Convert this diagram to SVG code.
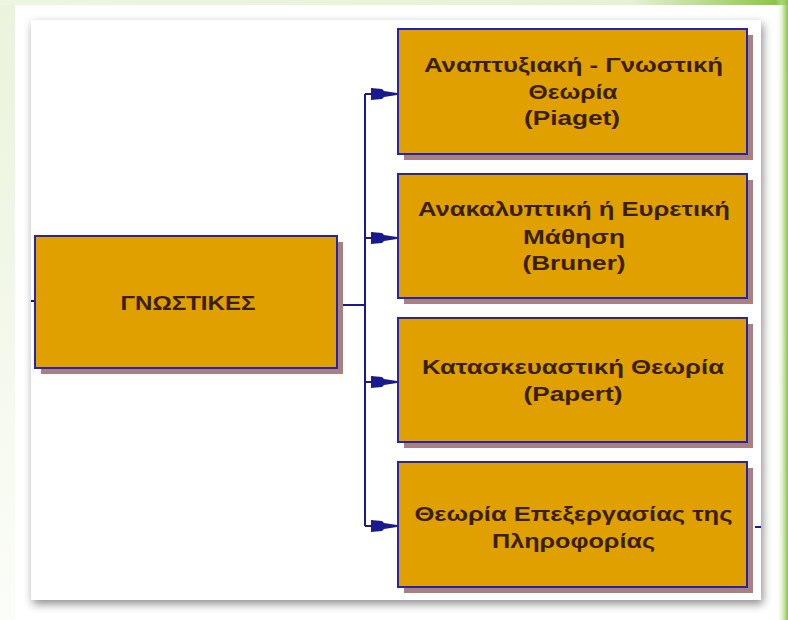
<svg xmlns="http://www.w3.org/2000/svg" width="788" height="620" viewBox="0 0 788 620">
  <defs>
    <linearGradient id="leftTint" x1="0" y1="0" x2="0" y2="1">
      <stop offset="0" stop-color="#eaf3dc"/>
      <stop offset="1" stop-color="#fbfdf8"/>
    </linearGradient>
    <linearGradient id="topTint" x1="0" y1="0" x2="1" y2="0">
      <stop offset="0" stop-color="#eef5e2"/>
      <stop offset="0.8" stop-color="#e6f1d6"/>
      <stop offset="1" stop-color="#86c23a"/>
    </linearGradient>
    <linearGradient id="rightTint" x1="0" y1="0" x2="1" y2="0">
      <stop offset="0" stop-color="#ffffff" stop-opacity="0"/>
      <stop offset="1" stop-color="#86c23a"/>
    </linearGradient>
    <filter id="panelShadow" x="-5%" y="-5%" width="110%" height="110%">
      <feDropShadow dx="2" dy="4" stdDeviation="5" flood-color="#000" flood-opacity="0.45"/>
    </filter>
    <marker id="arrow" markerUnits="userSpaceOnUse" viewBox="0 0 26 12" markerWidth="26" markerHeight="12" refX="26" refY="6" orient="auto">
      <path d="M0,0 L11,1 L13,3 L26,5 L26,7 L13,9 L11,11 L0,12 Z" fill="#1a1a8c"/>
    </marker>
    <style>
      .box { fill: #e0a000; stroke: #2424b4; stroke-width: 2; }
      .shadow { fill: #a88080; }
      .lbl { font-family: "Liberation Sans", Arial, sans-serif; font-weight: bold; font-size: 20px; fill: #3a1f00; text-anchor: middle; }
      .big { font-size: 21px; }
      .conn { fill: none; stroke: #1a1a8c; stroke-width: 2; }
    </style>
  </defs>

  <!-- background -->
  <rect x="0" y="0" width="788" height="620" fill="url(#leftTint)"/>
  <rect x="0" y="0" width="788" height="5" fill="url(#topTint)"/>
  <rect x="15" y="5" width="768" height="615" fill="#ffffff"/>
  <rect x="776" y="0" width="12" height="620" fill="url(#rightTint)"/>
  <rect x="31" y="20" width="730" height="580" fill="#ffffff" filter="url(#panelShadow)"/>

  <!-- connectors -->
  <g id="connectors">
    <path class="conn" d="M31,301 H35"/>
    <path class="conn" d="M343,305 H365"/>
    <path class="conn" d="M365,94 V526"/>
    <path class="conn" d="M365,94 H397" marker-end="url(#arrow)"/>
    <path class="conn" d="M365,238 H397" marker-end="url(#arrow)"/>
    <path class="conn" d="M365,382 H397" marker-end="url(#arrow)"/>
    <path class="conn" d="M365,526 H397" marker-end="url(#arrow)"/>
    <path class="conn" d="M755,527 H761"/>
  </g>

  <!-- nodes -->
  <g id="node-gnostikes">
    <rect class="shadow" x="41" y="242" width="302" height="132"/>
    <rect class="box" x="35" y="236" width="302" height="132"/>
    <text class="lbl big" x="188" y="309.5" textLength="135" lengthAdjust="spacingAndGlyphs">ΓΝΩΣΤΙΚΕΣ</text>
  </g>

  <g id="node-piaget">
    <rect class="shadow" x="404" y="35" width="349" height="125"/>
    <rect class="box" x="398" y="29" width="349" height="125"/>
    <text class="lbl" x="573.5" y="72" textLength="299" lengthAdjust="spacingAndGlyphs">Αναπτυξιακή - Γνωστική</text>
    <text class="lbl" x="573" y="99" textLength="89" lengthAdjust="spacingAndGlyphs">Θεωρία</text>
    <text class="lbl" x="572" y="125" textLength="96" lengthAdjust="spacingAndGlyphs">(Piaget)</text>
  </g>

  <g id="node-bruner">
    <rect class="shadow" x="404" y="180" width="349" height="124"/>
    <rect class="box" x="398" y="174" width="349" height="124"/>
    <text class="lbl" x="574" y="216" textLength="312" lengthAdjust="spacingAndGlyphs">Ανακαλυπτική ή Ευρετική</text>
    <text class="lbl" x="574" y="244" textLength="102" lengthAdjust="spacingAndGlyphs">Μάθηση</text>
    <text class="lbl" x="574" y="270" textLength="103" lengthAdjust="spacingAndGlyphs">(Bruner)</text>
  </g>

  <g id="node-papert">
    <rect class="shadow" x="404" y="324" width="349" height="124"/>
    <rect class="box" x="398" y="318" width="349" height="124"/>
    <text class="lbl" x="573" y="374" textLength="302" lengthAdjust="spacingAndGlyphs">Κατασκευαστική Θεωρία</text>
    <text class="lbl" x="573" y="401" textLength="99" lengthAdjust="spacingAndGlyphs">(Papert)</text>
  </g>

  <g id="node-information">
    <rect class="shadow" x="404" y="468" width="349" height="125"/>
    <rect class="box" x="398" y="462" width="349" height="125"/>
    <text class="lbl" x="573.5" y="521" textLength="318" lengthAdjust="spacingAndGlyphs">Θεωρία Επεξεργασίας της</text>
    <text class="lbl" x="573.5" y="548" textLength="163" lengthAdjust="spacingAndGlyphs">Πληροφορίας</text>
  </g>
</svg>
